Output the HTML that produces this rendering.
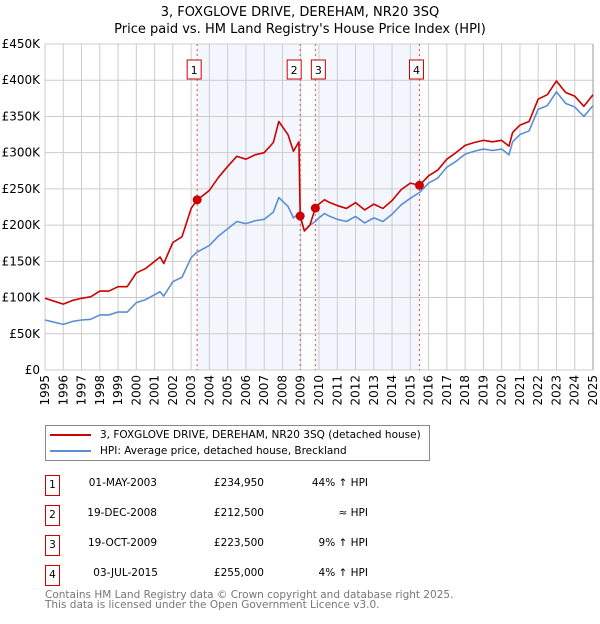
<!DOCTYPE html>
<html><head><meta charset="utf-8"><style>
body{margin:0;background:#fff;font-family:"DejaVu Sans","Liberation Sans",sans-serif}
svg text{font-family:"DejaVu Sans","Liberation Sans",sans-serif}
</style></head><body>
<svg id="c" width="600" height="620" xmlns="http://www.w3.org/2000/svg"></svg>
<script>
const dates=[1995.0,1995.5,1996.0,1996.5,1997.0,1997.5,1998.0,1998.5,1999.0,1999.5,2000.0,2000.5,2001.0,2001.3,2001.5,2002.0,2002.5,2003.0,2003.33,2003.5,2004.0,2004.5,2005.0,2005.5,2006.0,2006.5,2007.0,2007.5,2007.8,2008.3,2008.6,2008.9,2008.97,2009.2,2009.5,2009.8,2010.0,2010.3,2010.6,2011.0,2011.5,2012.0,2012.5,2013.0,2013.5,2014.0,2014.5,2015.0,2015.5,2016.0,2016.5,2017.0,2017.5,2018.0,2018.5,2019.0,2019.5,2020.0,2020.4,2020.6,2021.0,2021.5,2022.0,2022.5,2023.0,2023.5,2024.0,2024.5,2025.0];
const hpiValues=[69,66,63,67,69,70,76,76,80,80,93,97,104,108,102,122,128,155,163,165,172,185,195,205,202,206,208,218,238,226,210,216,212,192,200,205,210,216,212,208,205,212,203,210,205,215,228,237,245,258,265,280,288,298,302,305,303,305,297,315,325,330,360,365,384,368,363,350,365];
const propValues=[99,95,91,96,99,101,109,109,115,115,134,140,150,156,147,176,184,223,235,238,248,266,281,295,291,297,300,314,343,325,302,315,212.5,192,200,223.5,229,235,231,227,223,231,221,229,223,234,249,258,255,268,276,291,300,310,314,317,315,317,309,328,338,343,374,380,399,383,378,364,380];
const saleDates=[2003.33,2008.97,2009.8,2015.5];
const salePrices=[234.95,212.5,223.5,255];
const saleLabels=["1","2","3","4"];
const yTicks=[0,50,100,150,200,250,300,350,400,450];
const yTickLabels=["£0","£50K","£100K","£150K","£200K","£250K","£300K","£350K","£400K","£450K"];
const years=[];for(let y=1995;y<=2025;y++)years.push(y);

const NS="http://www.w3.org/2000/svg",svg=document.getElementById('c');
const X0=45,X1=593,Y0=370,Y1=44;
const xs=d=>X0+(d-1995)/30*(X1-X0);
const ys=v=>Y0-v/450*(Y0-Y1);
function el(t,a,p){const e=document.createElementNS(NS,t);for(const k in a)e.setAttribute(k,a[k]);(p||svg).appendChild(e);return e;}
function tx(s,a){const e=el('text',a);e.textContent=s;return e;}

let t=tx("3, FOXGLOVE DRIVE, DEREHAM, NR20 3SQ",{x:300,y:16,'text-anchor':'middle','font-size':13});

t=tx("Price paid vs. HM Land Registry's House Price Index (HPI)",{x:300,y:33,'text-anchor':'middle','font-size':13});


[[0,1],[2,3]].forEach(p=>{const r=el('rect',{x:xs(saleDates[p[0]]),y:Y1,width:xs(saleDates[p[1]])-xs(saleDates[p[0]]),height:Y0-Y1,fill:'#eef3fc',opacity:0.7});
});

years.forEach(y=>{const l=el('line',{x1:xs(y),x2:xs(y),y1:Y1,y2:Y0,stroke:'#cccccc','stroke-width':1});

const g=tx(String(y),{transform:`translate(${xs(y)+4},375) rotate(-90)`,'text-anchor':'end','font-size':12});
});
yTicks.forEach((v,i)=>{const l=el('line',{x1:X0,x2:X1,y1:ys(v),y2:ys(v),stroke:'#cccccc','stroke-width':1});

const g=tx(yTickLabels[i],{x:40,y:ys(v)+4,'text-anchor':'end','font-size':12});
});
let ax=el('line',{x1:X1,x2:X1,y1:Y1,y2:Y0,stroke:'#999','stroke-width':1});


saleDates.forEach(d=>{const l=el('line',{x1:xs(d),x2:xs(d),y1:Y1,y2:Y0,stroke:'#e05050','stroke-width':1,'stroke-dasharray':'2,3'});
});

function line(vals,col,name){const p=el('polyline',{points:dates.map((d,i)=>xs(d)+','+ys(vals[i])).join(' '),fill:'none',stroke:col,'stroke-width':1.6,'stroke-linejoin':'round'});
}
line(hpiValues,'#5b8fd4','hpi-line');
line(propValues,'#cc0000','price-paid-line');

const offs=[-3,-6,3,-3];
saleDates.forEach((d,i)=>{const c=el('circle',{cx:xs(d),cy:ys(salePrices[i]),r:4.5,fill:'#cc0000'});

const cx=xs(d)+offs[i];
const b=el('rect',{x:cx-7,y:60,width:14,height:19,fill:'#fff',stroke:'#cc0000','stroke-width':1});

const tt=tx(saleLabels[i],{x:cx,y:74,'text-anchor':'middle','font-size':11});
});
</script>
<div style="position:absolute;left:45px;top:425px;width:385px;height:36px;border:1px solid #888;box-sizing:border-box;font-size:10.5px">
 <div style="position:absolute;left:4px;top:3px;white-space:nowrap"><span style="display:inline-block;width:41px;height:2px;background:#cc0000;vertical-align:middle;margin-right:9px"></span>3, FOXGLOVE DRIVE, DEREHAM, NR20 3SQ (detached house)</div>
 <div style="position:absolute;left:4px;top:19px;white-space:nowrap"><span style="display:inline-block;width:41px;height:2px;background:#5b8fd4;vertical-align:middle;margin-right:9px"></span>HPI: Average price, detached house, Breckland</div>
</div>
<div style="position:absolute;left:0;top:0;font-size:10.5px">
 <div>
  <div style="position:absolute;left:45px;top:475px;width:13px;height:19px;border:1px solid #cc0000;text-align:center;line-height:19px">1</div>
  <div style="position:absolute;left:60px;top:477px;width:97px;text-align:right">01-MAY-2003</div>
  <div style="position:absolute;left:170px;top:477px;width:94px;text-align:right">£234,950</div>
  <div style="position:absolute;left:270px;top:477px;width:98px;text-align:right">44% ↑ HPI</div>
 </div>
 <div>
  <div style="position:absolute;left:45px;top:505px;width:13px;height:19px;border:1px solid #cc0000;text-align:center;line-height:19px">2</div>
  <div style="position:absolute;left:60px;top:507px;width:97px;text-align:right">19-DEC-2008</div>
  <div style="position:absolute;left:170px;top:507px;width:94px;text-align:right">£212,500</div>
  <div style="position:absolute;left:270px;top:507px;width:98px;text-align:right">≈ HPI</div>
 </div>
 <div>
  <div style="position:absolute;left:45px;top:535px;width:13px;height:19px;border:1px solid #cc0000;text-align:center;line-height:19px">3</div>
  <div style="position:absolute;left:60px;top:537px;width:97px;text-align:right">19-OCT-2009</div>
  <div style="position:absolute;left:170px;top:537px;width:94px;text-align:right">£223,500</div>
  <div style="position:absolute;left:270px;top:537px;width:98px;text-align:right">9% ↑ HPI</div>
 </div>
 <div>
  <div style="position:absolute;left:45px;top:565px;width:13px;height:19px;border:1px solid #cc0000;text-align:center;line-height:19px">4</div>
  <div style="position:absolute;left:60px;top:567px;width:98px;text-align:right">03-JUL-2015</div>
  <div style="position:absolute;left:170px;top:567px;width:94px;text-align:right">£255,000</div>
  <div style="position:absolute;left:270px;top:567px;width:98px;text-align:right">4% ↑ HPI</div>
 </div>
</div>
<div style="position:absolute;left:45px;top:590px;font-size:10.5px;color:#777;line-height:10px;white-space:nowrap">Contains HM Land Registry data © Crown copyright and database right 2025.<br>This data is licensed under the Open Government Licence v3.0.</div>
</body></html>
